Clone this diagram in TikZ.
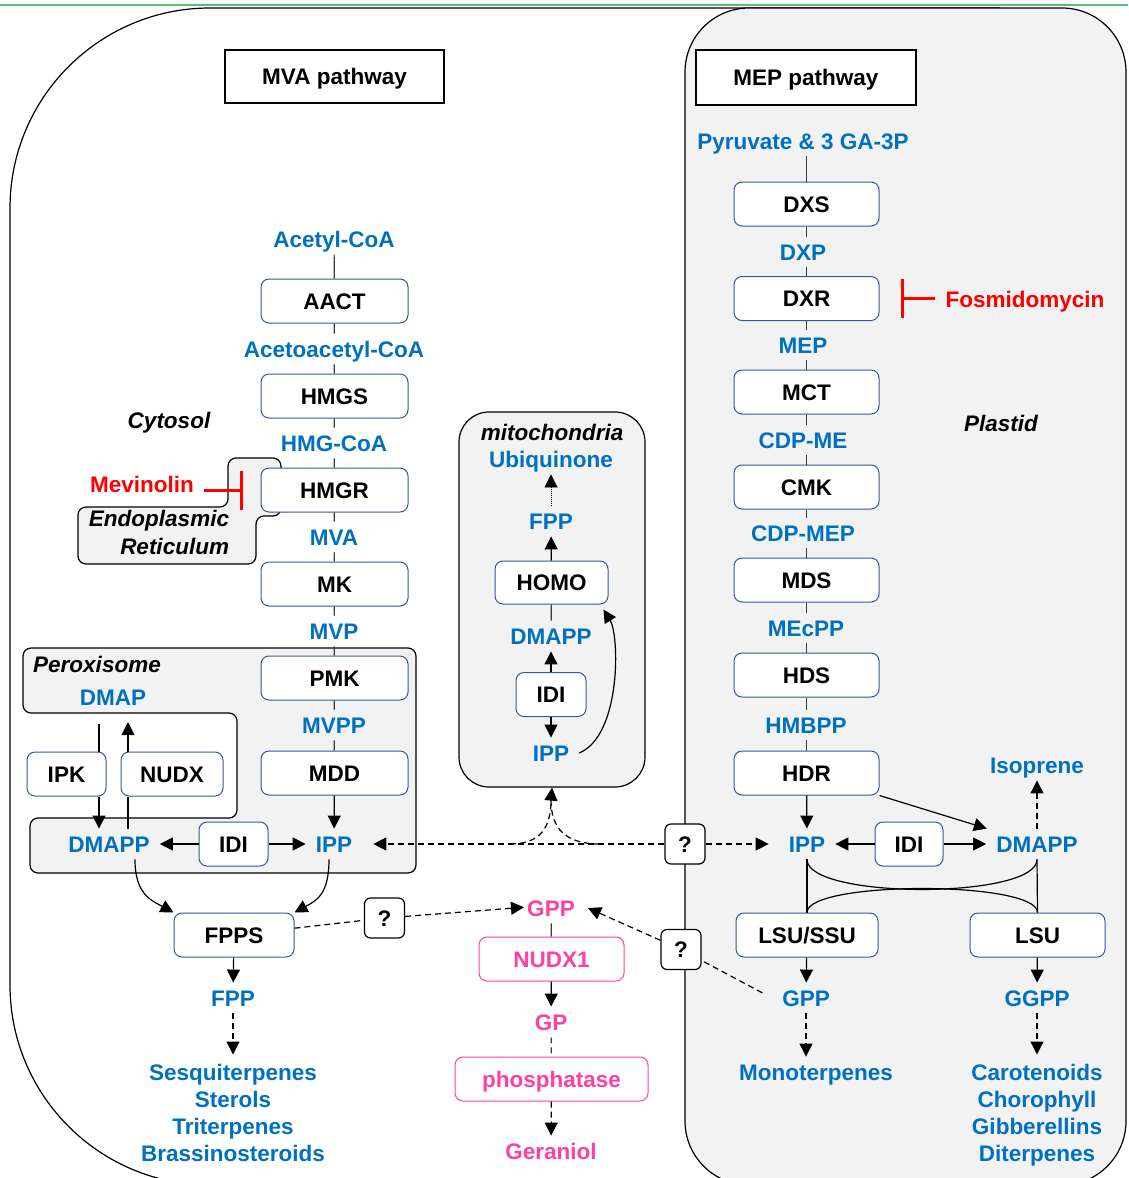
\documentclass[tikz,border=0pt]{standalone}
\usepackage{fontspec}
\setmainfont{Liberation Sans}
\usetikzlibrary{arrows.meta}
\definecolor{tblue}{RGB}{0,112,192}
\definecolor{bblue}{RGB}{56,87,150}
\definecolor{pgray}{RGB}{242,242,242}
\definecolor{tpink}{RGB}{255,64,160}
\definecolor{tred}{RGB}{255,0,0}
\definecolor{tgreen}{RGB}{90,190,120}
\definecolor{lgray}{RGB}{60,60,60}
\begin{document}
\begin{tikzpicture}[x=1pt,y=-1pt,
  every node/.style={font=\fontsize{22.5}{27.3}\selectfont\bfseries},
  lbl/.style={text=tblue, inner xsep=10pt, inner ysep=7pt, text height=16.5pt, text depth=0pt},
  plbl/.style={lbl, text=tpink, inner xsep=13pt},
  ital/.style={font=\fontsize{22.5}{27.3}\selectfont\bfseries\itshape, inner sep=0pt},
  enz/.style={draw=bblue, line width=1pt, fill=white, rounded corners=8pt, inner sep=0pt, text height=16.5pt, text depth=0pt, minimum height=44pt},
  penz/.style={enz, draw=tpink, text=tpink},
  hdr/.style={draw=black, line width=1.3pt, fill=white, inner sep=0pt, text height=16.5pt, text depth=0pt},
  qbox/.style={draw=black, line width=1.2pt, fill=white, rounded corners=6pt, minimum width=40pt, minimum height=40pt, inner sep=0pt, text height=16.5pt, text depth=0pt},
  region/.style={draw=black, line width=1.2pt, fill=pgray},
  conn/.style={draw=lgray, line width=1.2pt},
  arr/.style={draw=black, line width=1.2pt, -{Triangle[length=13pt,width=13pt]}},
  dsh/.style={dash pattern=on 6pt off 4pt},
  inh/.style={draw=tred, line width=3pt, -{Bar[width=39pt, line width=3pt]}},
  multi/.style={text=tblue, align=center, inner sep=0pt, anchor=north},
]
\useasboundingbox (0,0) rectangle (1128,1178);
\clip (0,0) rectangle (1128,1178);
\fill[white] (0,0) rectangle (1128,1178);
% top green rule
\draw[tgreen, line width=2pt] (0,5) -- (1128,5);
% cytosol outline
\draw[line width=1.2pt, rounded corners=200pt] (1000,8) -- (10,8) -- (10,1185) -- (1000,1185);
% plastid
\draw[region, rounded corners=64pt] (685,1185) -- (685,8) -- (1126,8) -- (1126,1185) -- cycle;
% ER
\draw[region, rounded corners=8pt] (228,458) -- (281,458) -- (281,516) -- (256,516) -- (256,564) -- (78,564) -- (78,507) -- (228,507) -- cycle;
% peroxisome
\draw[region, rounded corners=8pt] (23,648) -- (416,648) -- (416,873) -- (30,873) -- (30,818) -- (237,818) -- (237,713) -- (23,713) -- cycle;
% mitochondria
\node[region, rounded corners=30pt, minimum width=186pt, minimum height=375pt, inner sep=0pt] (mito) at (552,599.5) {};

% ---------- MVA ----------
\node[hdr, minimum width=219pt, minimum height=53pt] (mvah) at (334.5,76.5) {MVA pathway};
\node[lbl] (acoa) at (334,239) {Acetyl-CoA};
\node[enz, minimum width=147pt] (aact) at (334.5,301) {AACT};
\node[lbl] (aacoa) at (334,349) {Acetoacetyl-CoA};
\node[enz, minimum width=147pt] (hmgs) at (334.5,396) {HMGS};
\node[lbl] (hmgcoa) at (334,443) {HMG-CoA};
\node[enz, minimum width=147pt] (hmgr) at (334.5,490) {HMGR};
\node[lbl] (mval) at (334,537) {MVA};
\node[enz, minimum width=147pt] (mk) at (334.5,584) {MK};
\node[lbl] (mvp) at (334,631) {MVP};
\node[enz, minimum width=147pt] (pmk) at (334.5,678) {PMK};
\node[lbl] (mvpp) at (334,725) {MVPP};
\node[enz, minimum width=147pt] (mdd) at (334.5,773) {MDD};
\node[lbl] (ippP) at (334,844) {IPP};
\node[enz, minimum width=69pt] (idiP) at (233.5,844) {IDI};
\node[lbl] (dmappP) at (109,844) {DMAPP};
\node[enz, minimum width=120pt] (fpps) at (234,935) {FPPS};
\node[lbl] (fppC) at (233,998) {FPP};
\node[multi] (sesq) at (233,1063.5) {Sesquiterpenes\\Sterols\\Triterpenes\\Brassinosteroids};
\node[ital] (cyt) at (169,423) {Cytosol};
\node[text=tred, inner xsep=10pt, inner ysep=0pt] (mev) at (142,484) {Mevinolin};
\node[ital, align=right] (er) at (159,532.5) {Endoplasmic\\Reticulum};
\node[ital] (perox) at (97,664) {Peroxisome};
\node[lbl] (dmap) at (113,697) {DMAP};
\node[enz, minimum width=79pt] (ipk) at (66.5,774) {IPK};
\node[enz, minimum width=102pt] (nudx) at (172,774) {NUDX};
\coordinate (ipkIn) at (99,724);
\coordinate (nudxOut) at (128,722);

% ---------- mitochondria ----------
\node[ital] (mitol) at (552,432) {mitochondria};
\node[lbl] (ubi) at (551,459) {Ubiquinone};
\node[lbl] (fppM) at (551,521) {FPP};
\node[enz, minimum width=113pt, minimum height=43pt] (homo) at (551.5,582.5) {HOMO};
\node[lbl] (dmappM) at (551,636) {DMAPP};
\node[enz, minimum width=70pt] (idiM) at (551,694.5) {IDI};
\node[lbl] (ippM) at (551,753) {IPP};
\coordinate (mj) at (551,800);
\coordinate (mjL) at (510,844);
\coordinate (mjR) at (600,844);

% ---------- MEP ----------
\node[hdr, minimum width=220pt, minimum height=55pt] (meph) at (806,77.5) {MEP pathway};
\node[lbl] (pyr) at (803,141) {Pyruvate \& 3 GA-3P};
\node[enz, minimum width=145pt] (dxs) at (806.5,204) {DXS};
\node[lbl] (dxp) at (803,252) {DXP};
\node[enz, minimum width=145pt] (dxr) at (806.5,298.5) {DXR};
\node[text=tred, inner xsep=10pt, inner ysep=0pt] (fos) at (1025,302) {Fosmidomycin};
\node[lbl] (mep) at (803,345) {MEP};
\node[enz, minimum width=145pt] (mct) at (806.5,392) {MCT};
\node[lbl] (cdpme) at (803,440) {CDP-ME};
\node[enz, minimum width=145pt] (cmk) at (806.5,487) {CMK};
\node[lbl] (cdpmep) at (803,533) {CDP-MEP};
\node[enz, minimum width=145pt] (mds) at (806.5,580) {MDS};
\node[lbl] (mecpp) at (806,628) {MEcPP};
\node[enz, minimum width=145pt] (hds) at (806.5,675) {HDS};
\node[lbl] (hmbpp) at (806,725) {HMBPP};
\node[enz, minimum width=145pt] (hdr) at (806.5,773) {HDR};
\node[ital] (plas) at (1001,423) {Plastid};
\node[lbl] (isop) at (1037,765) {Isoprene};
\node[lbl] (ippT) at (807,844) {IPP};
\node[enz, minimum width=68pt] (idiT) at (909,844) {IDI};
\node[lbl] (dmappT) at (1037,844) {DMAPP};
\node[enz, minimum width=142pt] (lsussu) at (807,935) {LSU/SSU};
\node[enz, minimum width=135pt] (lsu) at (1037.5,935) {LSU};
\node[lbl] (gppT) at (806,998) {GPP};
\node[lbl] (ggpp) at (1037,998) {GGPP};
\node[lbl] (mono) at (816,1072) {Monoterpenes};
\node[multi] (caro) at (1037,1063.5) {Carotenoids\\Chorophyll\\Gibberellins\\Diterpenes};

% ---------- GPP / geraniol ----------
\node[plbl] (gppC) at (551,908) {GPP};
\node[penz, minimum width=145pt] (nudx1) at (551.5,959) {NUDX1};
\node[plbl] (gp) at (551,1022) {GP};
\node[penz, minimum width=193pt] (phos) at (551.5,1079) {phosphatase};
\node[plbl] (geran) at (551,1151) {Geraniol};

% ? boxes
\node[qbox] (q1) at (685,844) {?};
\node[qbox] (q2) at (384.5,918) {?};
\node[qbox] (q3) at (681,949.5) {?};

% ---------- connectors MVA ----------
\draw[conn] (acoa) -- (aact);
\draw[conn] (aact) -- (aacoa);
\draw[conn] (aacoa) -- (hmgs);
\draw[conn] (hmgs) -- (hmgcoa);
\draw[conn] (hmgcoa) -- (hmgr);
\draw[conn] (hmgr) -- (mval);
\draw[conn] (mval) -- (mk);
\draw[conn] (mk) -- (mvp);
\draw[conn] (mvp) -- (pmk);
\draw[conn] (pmk) -- (mvpp);
\draw[conn] (mvpp) -- (mdd);
\draw[arr] (mdd) -- (ippP);
\draw[arr] (idiP) -- (ippP);
\draw[arr] (idiP) -- (dmappP);
\draw[conn, draw=black] (ipkIn) -- (ipkIn |- ipk.north);
\draw[arr] (ipk.south -| ipkIn) -- (ipkIn |- dmappP.north);
\draw[conn, draw=black] (nudxOut |- dmappP.north) -- (nudxOut |- nudx.south);
\draw[arr] (nudxOut |- nudx.north) -- (nudxOut);
\draw[arr] ([xshift=26pt]dmappP.south) .. controls +(0,35) and +(-22,-12) .. (fpps.north west);
\draw[arr] ([xshift=-5pt]ippP.south) .. controls +(0,35) and +(22,-12) .. (fpps.north east);
\draw[arr] (fpps) -- (fppC);
\draw[arr, dsh, shorten >=9pt] (fppC) -- (sesq);
\draw[inh] (mev.east |- hmgr.west) -- ([xshift=-18pt]hmgr.west);

% ---------- connectors mitochondria ----------
\draw[arr, dash pattern=on 1pt off 1pt, line width=0.9pt] (fppM) -- (ubi);
\draw[arr] (homo) -- (fppM);
\draw[conn] (homo) -- (dmappM);
\draw[arr] (idiM) -- (dmappM);
\draw[arr] (idiM) -- (ippM);
\draw[arr] (ippM.east) .. controls +(42,-18) and +(16,26) .. ([xshift=-5pt,yshift=-5pt]homo.south east);
\draw[arr, dsh] (mj) -- (mito.south);
\draw[draw=black, line width=1.2pt, dsh] (mjL) .. controls (540,844) and (551,828) .. (mj);
\draw[draw=black, line width=1.2pt, dsh] (mjR) .. controls (565,844) and (551,828) .. (mj);
\draw[arr, dsh, shorten >=11pt] (q1) -- (ippP);
\draw[arr, dsh, shorten >=10pt] (q1) -- (ippT);

% ---------- connectors MEP (vertical at the box axis) ----------
\draw[conn] (dxs.north |- pyr.south) -- (dxs.north);
\draw[conn] (dxs.south) -- (dxs.south |- dxp.north);
\draw[conn] (dxs.south |- dxp.south) -- (dxr.north);
\draw[conn] (dxr.south) -- (dxr.south |- mep.north);
\draw[conn] (dxr.south |- mep.south) -- (mct.north);
\draw[conn] (mct.south) -- (mct.south |- cdpme.north);
\draw[conn] (mct.south |- cdpme.south) -- (cmk.north);
\draw[conn] (cmk.south) -- (cmk.south |- cdpmep.north);
\draw[conn] (cmk.south |- cdpmep.south) -- (mds.north);
\draw[conn] (mds.south) -- (mds.south |- mecpp.north);
\draw[conn] (mds.south |- mecpp.south) -- (hds.north);
\draw[conn] (hds.south) -- (hds.south |- hmbpp.north);
\draw[conn] (hds.south |- hmbpp.south) -- (hdr.north);
\draw[inh] (fos.west |- dxr.east) -- ([xshift=21pt]dxr.east);
\draw[arr] (hdr) -- (ippT);
\draw[arr] (hdr.south east) -- (dmappT);
\draw[arr] (idiT) -- (ippT);
\draw[arr] (idiT) -- (dmappT);
\draw[arr, dsh] (dmappT) -- (isop);
\draw[draw=black, line width=1.2pt] (ippT.south) -- (lsussu.north);
\draw[draw=black, line width=1.2pt] (dmappT.south) -- (lsu.north);
\draw[draw=black, line width=1.2pt] (ippT.south) .. controls +(0,40) and +(0,40) .. (dmappT.south);
\draw[draw=black, line width=1.2pt] (lsussu.north) .. controls +(0,-32) and +(0,-32) .. (lsu.north);
\draw[arr] (lsussu) -- (gppT);
\draw[arr] (lsu) -- (ggpp);
\draw[arr, dsh] (gppT.south) -- (gppT.south |- mono.north);
\draw[arr, dsh, shorten >=9pt] (ggpp) -- (caro);

% ---------- GPP / geraniol connectors ----------
\draw[draw=black, line width=1.2pt, dsh, shorten <=11pt] (gppT.west) -- (q3);
\draw[arr, dsh] (q3) -- (gppC.east);
\draw[draw=black, line width=1.2pt, dsh] (fpps) -- (q2);
\draw[arr, dsh, shorten >=-10pt] (q2) -- (gppC.west);
\draw[conn] (gppC) -- (nudx1);
\draw[arr] (nudx1) -- (gp);
\draw[conn, dsh] (gp) -- (phos);
\draw[arr, dsh] (phos) -- (geran);
\end{tikzpicture}
\end{document}
